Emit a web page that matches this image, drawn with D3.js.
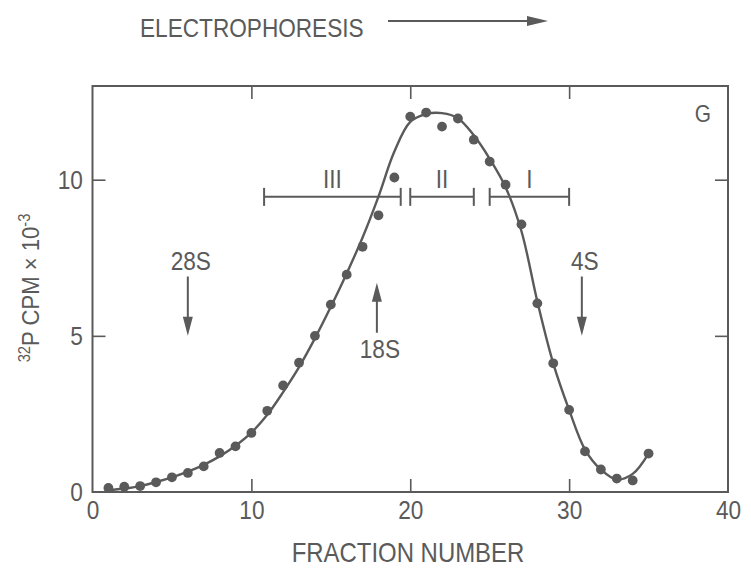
<!DOCTYPE html>
<html>
<head>
<meta charset="utf-8">
<script src="https://cdn.jsdelivr.net/npm/d3@7"></script>
<style>
  body { margin: 0; background: #fff; }
  svg { display: block; font-family: "Liberation Sans", Arial, sans-serif; }
  .frame { fill: none; stroke: #5a5a5a; stroke-width: 2; }
  .axis path { display: none; }
  .axis line { stroke: #5a5a5a; stroke-width: 1.6; }
  .axis text { fill: #5a5a5a; font-size: 26px; font-family: inherit; }
  .label { fill: #5a5a5a; }
  .fit { fill: none; stroke: #5a5a5a; stroke-width: 2.4; }
  .dot { fill: #5a5a5a; }
  .pool line, .marker line, .direction line { stroke: #5a5a5a; stroke-width: 2; }
  .head { fill: #5a5a5a; }
</style>
</head>
<body>
<div id="chart"></div>
<script>
// fraction number of each collected sample
const fractions = [1, 2, 3, 4, 5, 6, 7, 8, 9, 10, 11, 12, 13, 14, 15, 16, 17, 18,
  19, 20, 21, 22, 23, 24, 25, 26, 27, 28, 29, 30, 31, 32, 33, 34, 35];
// measured counts, 32P CPM x 10^-3
const cpm = [0.13, 0.17, 0.19, 0.31, 0.47, 0.61, 0.82, 1.25, 1.46, 1.89, 2.6, 3.41,
  4.14, 5.0, 6.0, 6.96, 7.85, 8.86, 10.07, 12.02, 12.15, 11.7, 11.96, 11.28, 10.58,
  9.84, 8.57, 6.04, 4.12, 2.63, 1.3, 0.72, 0.43, 0.37, 1.23];
// hand-drawn smooth curve read at each fraction
const fitted = [0.06, 0.11, 0.19, 0.32, 0.47, 0.65, 0.87, 1.14, 1.48, 1.9, 2.47, 3.2,
  4.0, 4.92, 5.93, 7.0, 8.15, 9.46, 10.9, 11.85, 12.1, 12.13, 11.97, 11.42, 10.67,
  9.76, 8.35, 6.1, 4.12, 2.63, 1.36, 0.72, 0.4, 0.58, 1.23];

const xTicks = [0, 10, 20, 30, 40];
const yTicks = [0, 5, 10];

// pooled regions
const poolLabels = ["III", "II", "I"];
const poolStart = [10.8, 20, 25];
const poolEnd = [19.4, 24, 30];

// sedimentation markers
const markerLabels = ["28S", "18S", "4S"];
const markerFractions = [6, 17.9, 30.8];
const markerDirections = ["down", "up", "down"];

const width = 751;
const height = 570;
const margin = { top: 86, right: 23, bottom: 78, left: 92.5 };
const squeeze = 0.87; // the original lettering is a condensed face

const x = d3.scaleLinear().domain([0, 40]).range([margin.left, width - margin.right]);
const y = d3.scaleLinear().domain([0, 13]).range([height - margin.bottom, margin.top]);

const svg = d3.select("#chart").append("svg")
  .attr("width", width)
  .attr("height", height);

// place a condensed text label at (px, py)
const label = (px, py, text, size, anchor = "middle") =>
  svg.append("text")
    .attr("class", "label")
    .attr("transform", `translate(${px},${py}) scale(${squeeze},1)`)
    .attr("text-anchor", anchor)
    .attr("font-size", size)
    .text(text);

const tick = 13;

// tick labels + inward ticks on all four sides
svg.append("g")
  .attr("class", "axis")
  .attr("transform", `translate(0,${y(0)})`)
  .call(d3.axisBottom(x).tickValues(xTicks).tickSizeInner(-tick).tickSizeOuter(0).tickPadding(9))
  .call((g) => g.selectAll("line").filter((d) => d === 0 || d === 40).remove())
  .call((g) => g.selectAll("text").attr("transform", `scale(${squeeze},1)`));

svg.append("g")
  .attr("class", "axis")
  .attr("transform", `translate(0,${y(13)})`)
  .call(d3.axisTop(x).tickValues([10, 20, 30]).tickSizeInner(-tick).tickSizeOuter(0).tickFormat(""));

svg.append("g")
  .attr("class", "axis")
  .attr("transform", `translate(${x(0)},0)`)
  .call(d3.axisLeft(y).tickValues(yTicks).tickSizeInner(-tick).tickSizeOuter(0).tickPadding(11))
  .call((g) => g.selectAll("line").filter((d) => d === 0).remove())
  .call((g) => g.selectAll("text").attr("transform", `scale(${squeeze},1)`));

svg.append("g")
  .attr("class", "axis")
  .attr("transform", `translate(${x(40)},0)`)
  .call(d3.axisRight(y).tickValues([5, 10]).tickSizeInner(-tick).tickSizeOuter(0).tickFormat(""));

svg.append("rect")
  .attr("class", "frame")
  .attr("x", x(0))
  .attr("y", y(13))
  .attr("width", x(40) - x(0))
  .attr("height", y(0) - y(13));

// fitted curve and measured points
const points = fractions.map((f, i) => ({ f, v: cpm[i], fit: fitted[i] }));

svg.append("path")
  .datum(points)
  .attr("class", "fit")
  .attr("d", d3.line().x((d) => x(d.f)).y((d) => y(d.fit)).curve(d3.curveCatmullRom.alpha(0.5)));

svg.append("g")
  .selectAll("circle")
  .data(points)
  .join("circle")
  .attr("class", "dot")
  .attr("cx", (d) => x(d.f))
  .attr("cy", (d) => y(d.v))
  .attr("r", 4.9);

// pooled fraction bars
const barY = y(9.45);
const pool = svg.append("g")
  .attr("class", "pool")
  .selectAll("g")
  .data(poolLabels.map((name, i) => ({ name, from: poolStart[i], to: poolEnd[i] })))
  .join("g");

pool.append("line")
  .attr("x1", (d) => x(d.from)).attr("x2", (d) => x(d.to))
  .attr("y1", barY).attr("y2", barY);
pool.append("line")
  .attr("x1", (d) => x(d.from)).attr("x2", (d) => x(d.from))
  .attr("y1", barY - 9).attr("y2", barY + 9);
pool.append("line")
  .attr("x1", (d) => x(d.to)).attr("x2", (d) => x(d.to))
  .attr("y1", barY - 9).attr("y2", barY + 9);
pool.each((d) => label(x((d.from + d.to) / 2), barY - 9, d.name, 26));

// marker arrows
const arrowHead = (px, tipY, dir) => {
  const s = dir === "down" ? -1 : 1;
  return `M${px},${tipY}L${px - 5},${tipY + s * 19}L${px + 5},${tipY + s * 19}Z`;
};

const markers = markerLabels.map((name, i) => ({ name, f: markerFractions[i], dir: markerDirections[i] }));
const marker = svg.append("g")
  .attr("class", "marker")
  .selectAll("g")
  .data(markers)
  .join("g");

marker.append("line")
  .attr("x1", (d) => x(d.f)).attr("x2", (d) => x(d.f))
  .attr("y1", (d) => (d.dir === "down" ? y(6.9) : y(5.1)))
  .attr("y2", (d) => (d.dir === "down" ? y(5.0) - 15 : y(6.7) + 15));
marker.append("path")
  .attr("class", "head")
  .attr("d", (d) => (d.dir === "down"
    ? arrowHead(x(d.f), y(5.0), "down")
    : arrowHead(x(d.f), y(6.7), "up")));
markers.forEach((d) =>
  label(x(d.f) + 3, d.dir === "down" ? y(6.9) - 7 : y(5.1) + 25, d.name, 26));

// panel letter
label(x(40) - 17, 122, "G", 24, "end");

// axis titles
label(408, 562, "FRACTION NUMBER", 27.5);

const yTitle = svg.append("text")
  .attr("class", "label")
  .attr("transform", "translate(39,288) rotate(-90) scale(0.92,1)")
  .attr("text-anchor", "middle")
  .attr("font-size", 24);
yTitle.append("tspan").attr("font-size", 16).attr("dy", -9).text("32");
yTitle.append("tspan").attr("dy", 9).text("P CPM × 10");
yTitle.append("tspan").attr("font-size", 16).attr("dy", -9).text("-3");

// direction of migration
label(140, 37, "ELECTROPHORESIS", 26, "start");

const direction = svg.append("g").attr("class", "direction");
direction.append("line")
  .attr("x1", 388).attr("x2", 532)
  .attr("y1", 21).attr("y2", 21);
direction.append("path")
  .attr("class", "head")
  .attr("d", "M548,21L527,16L527,26Z");
</script>
</body>
</html>
